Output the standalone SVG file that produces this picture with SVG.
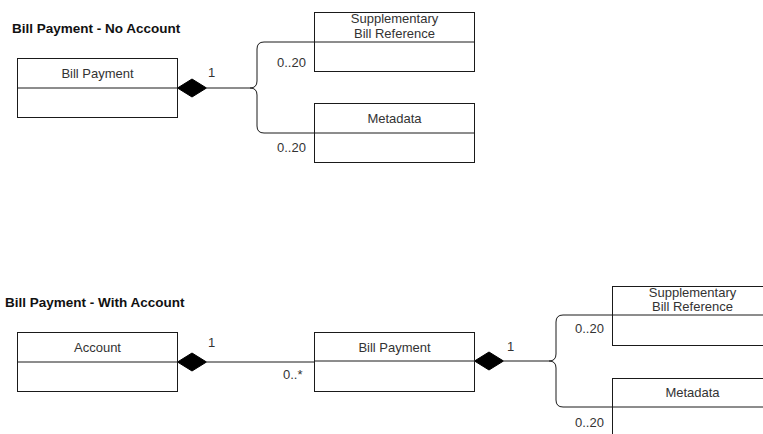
<svg xmlns="http://www.w3.org/2000/svg" width="763" height="434" viewBox="0 0 763 434">
  <style>
    .box { fill: #ffffff; stroke: #1a1a1a; stroke-width: 1; }
    .div { stroke: #1a1a1a; stroke-width: 1; }
    .edge { fill: none; stroke: #1a1a1a; stroke-width: 1; }
    .diamond { fill: #000000; stroke: #000000; stroke-width: 1; }
    .lbl { font-family: "Liberation Sans", Arial, sans-serif; font-size: 13px; fill: #333333; }
    .mid { text-anchor: middle; }
    .title { font-family: "Liberation Sans", Arial, sans-serif; font-size: 13.5px; font-weight: bold; fill: #111111; }
  </style>

  <!-- Section titles -->
  <text class="title" x="12" y="33">Bill Payment - No Account</text>
  <text class="title" x="5" y="307">Bill Payment - With Account</text>

  <!-- Connectors -->
  <g id="connectors">
    <!-- top: Bill Payment composition -->
    <polygon class="diamond" points="177.5,88 192,79 206.5,88 192,97"/>
    <path class="edge" d="M206.5,88 H250 Q257,88 257,81 V49 Q257,42 264,42 H314"/>
    <path class="edge" d="M250,88 Q257,88 257,95 V126 Q257,133 264,133 H314"/>
    <text class="lbl" x="208" y="77">1</text>
    <text class="lbl" x="277" y="67">0..20</text>
    <text class="lbl" x="277" y="152">0..20</text>

    <!-- bottom: Account to Bill Payment -->
    <polygon class="diamond" points="177.5,362 192,353 206.5,362 192,371"/>
    <path class="edge" d="M206.5,362 H314"/>
    <text class="lbl" x="208" y="347">1</text>
    <text class="lbl" x="283" y="379">0..*</text>

    <!-- bottom: Bill Payment composition -->
    <polygon class="diamond" points="474.5,361 489,352 503.5,361 489,370"/>
    <path class="edge" d="M503.5,361 H549 Q556,361 556,354 V322 Q556,315 563,315 H612"/>
    <path class="edge" d="M549,361 Q556,361 556,368 V400 Q556,407 563,407 H612"/>
    <text class="lbl" x="507" y="351">1</text>
    <text class="lbl" x="575" y="333">0..20</text>
    <text class="lbl" x="575" y="427">0..20</text>
  </g>

  <!-- Top section -->
  <g id="bill-payment-1">
    <rect class="box" x="17.5" y="58.5" width="160" height="59"/>
    <line class="div" x1="17.5" y1="88" x2="177.5" y2="88"/>
    <text class="lbl mid" x="97.5" y="78">Bill Payment</text>
  </g>
  <g id="supplementary-bill-reference-1">
    <rect class="box" x="314.5" y="12.5" width="160" height="59"/>
    <line class="div" x1="314.5" y1="42" x2="474.5" y2="42"/>
    <text class="lbl mid" x="394.5" y="23">Supplementary</text>
    <text class="lbl mid" x="394.5" y="38">Bill Reference</text>
  </g>
  <g id="metadata-1">
    <rect class="box" x="314.5" y="103.5" width="160" height="59"/>
    <line class="div" x1="314.5" y1="133" x2="474.5" y2="133"/>
    <text class="lbl mid" x="394.5" y="123">Metadata</text>
  </g>

  <!-- Bottom section -->
  <g id="account">
    <rect class="box" x="17.5" y="332.5" width="160" height="59"/>
    <line class="div" x1="17.5" y1="362" x2="177.5" y2="362"/>
    <text class="lbl mid" x="97.5" y="352">Account</text>
  </g>
  <g id="bill-payment-2">
    <rect class="box" x="314.5" y="332.5" width="160" height="59"/>
    <line class="div" x1="314.5" y1="361" x2="474.5" y2="361"/>
    <text class="lbl mid" x="394.5" y="352">Bill Payment</text>
  </g>
  <g id="supplementary-bill-reference-2">
    <rect class="box" x="612.5" y="286.5" width="160" height="59"/>
    <line class="div" x1="612.5" y1="315" x2="772.5" y2="315"/>
    <text class="lbl mid" x="692.5" y="297">Supplementary</text>
    <text class="lbl mid" x="692.5" y="311">Bill Reference</text>
  </g>
  <g id="metadata-2">
    <rect class="box" x="612.5" y="378.5" width="160" height="59"/>
    <line class="div" x1="612.5" y1="407" x2="772.5" y2="407"/>
    <text class="lbl mid" x="692.5" y="397">Metadata</text>
  </g>
</svg>
